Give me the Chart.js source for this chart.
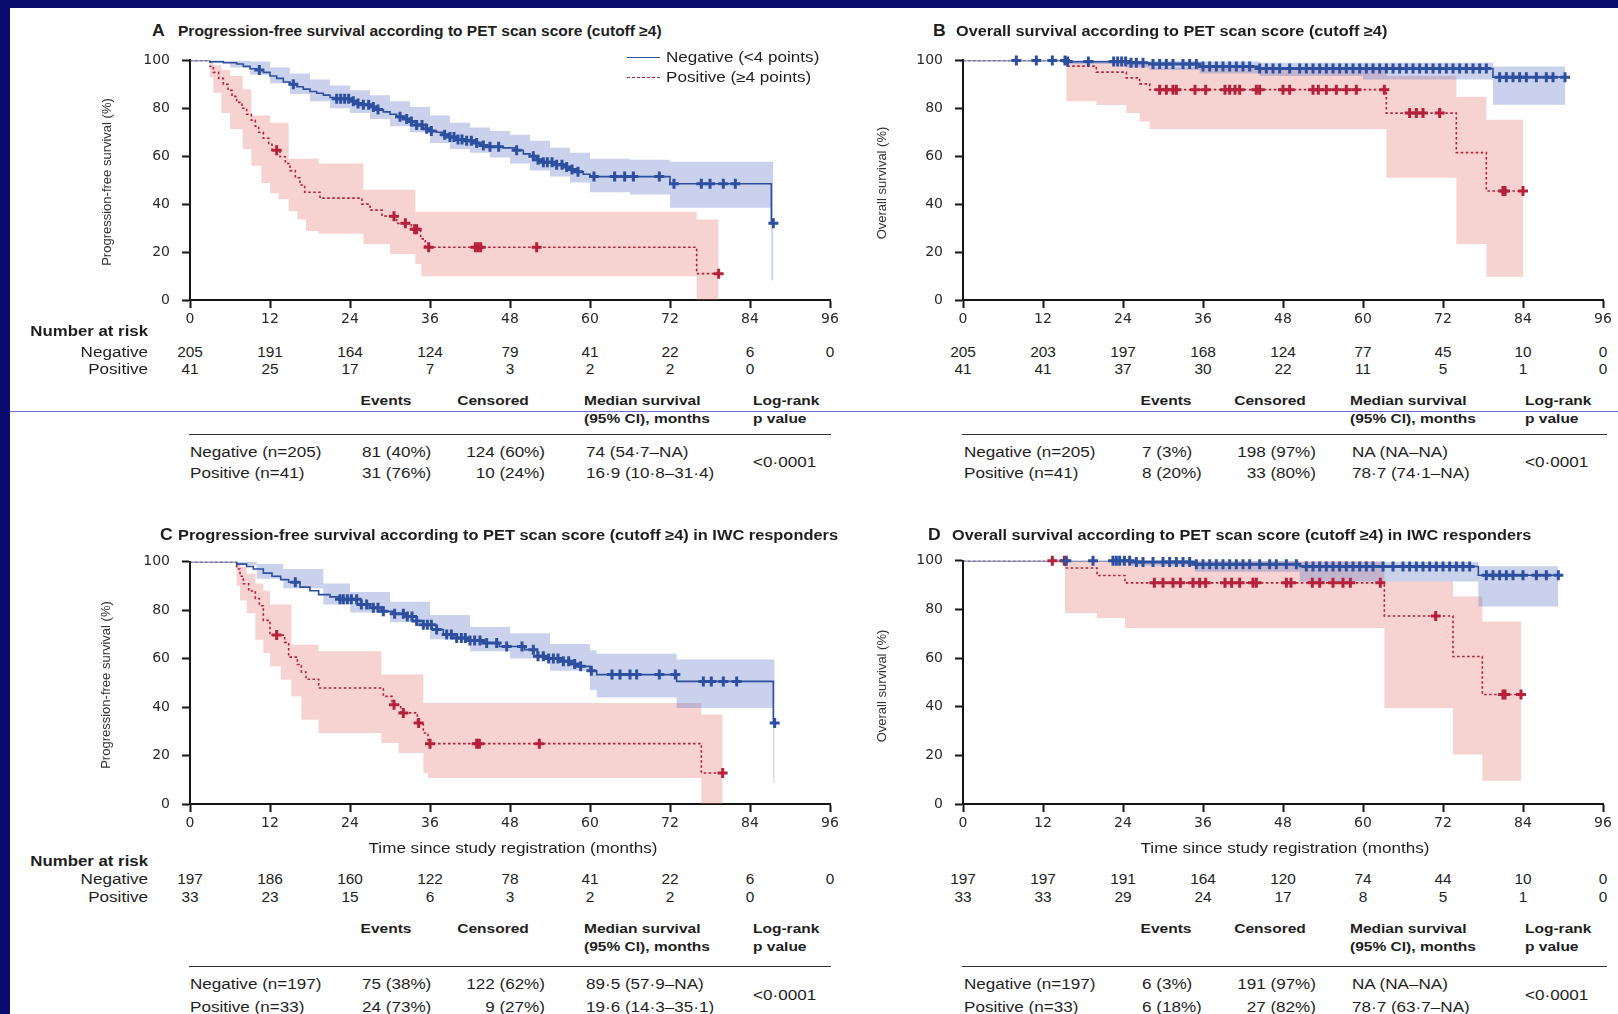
<!DOCTYPE html>
<html>
<head>
<meta charset="utf-8">
<script src="https://cdn.jsdelivr.net/npm/chart.js@4.4.0/dist/chart.umd.min.js"></script>
<style>
html, body { margin: 0; padding: 0; }
body { width: 1618px; height: 1014px; overflow: hidden; background: #0b0b6d; position: relative;
       font-family: "Liberation Sans", Arial, sans-serif; color: #1e1e1e; }
#sheet { position: absolute; left: 10px; top: 8px; right: 0; bottom: 0; background: #fff; }
#band-line { position: absolute; left: 10px; right: 0; top: 411px; height: 0; border-top: 1px solid #6b6bd6; }
.t { position: absolute; white-space: nowrap; line-height: 1; }
.rule { position: absolute; height: 0; border-top: 1.5px solid #333; }
.leg { position: absolute; width: 33px; height: 0; }
canvas { position: absolute; }
</style>
</head>
<body>
<div id="sheet"></div>
<div id="band-line"></div>
<script>
// ---- time points for number at risk ----
const riskTimes = [0, 12, 24, 36, 48, 60, 72, 84, 96];

// ---- A: PFS, all patients ----
const aNegT = [0, 3, 5, 7, 8, 9, 10, 11, 12, 13, 14, 15, 16, 17, 18, 19, 20, 21, 22, 24, 25, 26, 27, 28, 29, 30, 31, 32, 33, 34, 35, 36, 37, 38, 39, 40, 41, 43, 44, 45, 47, 49, 50, 51, 52, 53, 55, 56, 57, 58, 59, 60, 72, 87.2];
const aNegS = [100, 99.5, 99, 98.5, 97.5, 96.5, 96, 95, 93.5, 92.5, 91, 90, 89, 88, 87, 86.3, 85.5, 84.5, 84, 83, 82, 81.5, 80.5, 79.5, 78.5, 77.5, 76.5, 75.5, 74.5, 73, 71.5, 70.5, 70, 69, 68, 67, 66.5, 65.5, 64.5, 64, 63.5, 62.5, 61, 60, 58.5, 57.5, 56.5, 55.5, 54.5, 53.5, 52.5, 51.5, 48.5, 32];
const aNegCens = [10.4, 15.5, 22, 22.6, 23.2, 23.8, 24.5, 25.2, 26, 26.8, 27.5, 28.2, 31.5, 32.5, 33.2, 34, 34.8, 35.5, 36.2, 38.2, 39, 39.6, 40.2, 40.8, 41.5, 42.2, 43, 44, 45, 46.3, 49, 51.5, 52.2, 53, 53.6, 54.3, 55, 55.8, 56.5, 57.3, 58.2, 60.6, 63.7, 65.2, 66.5, 70.4, 72.6, 76.7, 78, 80, 81.8, 87.5];
const aNegCiT = [0, 3, 6, 9, 12, 15, 18, 21, 24, 27, 30, 33, 36, 39, 42, 45, 48, 51, 54, 57, 60, 66, 72, 87.2];
const aNegCiHi = [100, 100, 100, 99.5, 97, 94.5, 92, 89.5, 87.5, 85.5, 83, 80.5, 77, 74, 72, 70.5, 69, 66.5, 63.5, 61.5, 59, 58.5, 57.7, 57.7];
const aNegCiLo = [100, 99, 97, 94, 90.5, 86, 83, 80, 78, 75.5, 72.5, 70, 65.5, 63, 61.5, 59.5, 57, 54, 51.5, 49, 45, 44, 38.5, 8.2];
const aPosT = [0, 3, 3.5, 4.3, 5, 5.7, 6.3, 7, 7.8, 8.5, 9.2, 9.8, 10.3, 11, 11.8, 12.3, 13.5, 14.3, 15, 15.8, 16.5, 17.2, 19.5, 25.8, 27, 28.8, 31, 33.2, 34.6, 35.3, 76];
const aPosS = [100, 97.5, 95, 92.5, 90, 87.5, 85, 82.5, 80, 77.5, 75, 72.5, 70, 67.5, 65, 62.5, 59.8, 57, 54, 51, 48, 45, 42.5, 40, 37.5, 35, 32, 29.5, 25.5, 22, 11];
const aPosCens = [13, 30.6, 32.3, 33.7, 34, 35.8, 42.8, 43.2, 43.6, 52, 79.3];
const aPosCiT = [0, 3, 3.5, 4.7, 6, 7.9, 9.2, 10.7, 12, 13.3, 14.8, 16.1, 17.4, 19.3, 26, 30, 33.8, 34.7, 76];
const aPosCiHi = [100, 99.5, 98, 96, 93.5, 88, 77, 77, 74, 74, 59, 59, 59, 57, 46, 46, 36.8, 36.8, 33.6];
const aPosCiLo = [100, 93, 86.5, 78, 71.4, 63, 56, 48.8, 44.6, 42, 37, 33.6, 28.8, 27.7, 23.4, 19.2, 15, 9.9, 0];
const aRiskNeg = [205, 191, 164, 124, 79, 41, 22, 6, 0];
const aRiskPos = [41, 25, 17, 7, 3, 2, 2, 0];
const aRows = [["Negative (n=205)", "81 (40%)", "124 (60%)", "74 (54·7–NA)"],
               ["Positive (n=41)", "31 (76%)", "10 (24%)", "16·9 (10·8–31·4)"]];

// ---- B: OS, all patients ----
const bNegT = [0, 15.5, 24.5, 28, 35.5, 44.5, 79.5];
const bNegS = [100, 99.5, 99, 98.5, 97.5, 96.6, 93];
const bNegCens = [8, 11, 13.4, 15.3, 15.7, 18.8, 22.6, 23.2, 23.8, 24.4, 25.2, 26, 27, 28.5, 29.5, 30.5, 31.5, 33, 34, 35, 36, 37, 38, 39, 40, 41, 42, 43, 44.5, 45.5, 46.5, 47.5, 49, 50.5, 51.5, 52.5, 53.5, 54.5, 55.5, 56.5, 57.5, 58.5, 59.5, 60.5, 61.5, 62.5, 63.5, 64.5, 65.5, 66.5, 67.5, 68.5, 69.5, 70.5, 71.5, 72.5, 73.5, 74.5, 75.5, 76.5, 77.5, 78.5, 80.5, 81.5, 82.5, 83.5, 84.5, 86, 87.5, 88.5, 90.3];
const bNegCiT = [0, 15.5, 24.5, 28, 35.5, 44.5, 60, 79.5];
const bNegCiHi = [100, 100, 100, 100, 99.5, 99, 99, 97.5];
const bNegCiLo = [100, 98.5, 97, 96, 94.5, 93.5, 92, 81.5];
const bPosT = [0, 15.5, 20, 24.5, 26.5, 28, 63.5, 74, 78.5];
const bPosS = [100, 97.6, 95.1, 92.7, 90.2, 87.8, 78, 61.5, 45.5];
const bPosCens = [29.5, 30.5, 31.5, 32, 34.8, 36.4, 39.3, 40, 40.8, 41.5, 44, 44.5, 48, 49, 52.5, 53.3, 54.5, 56, 57.5, 59, 63.2, 67, 68, 69, 71.5, 81, 81.3, 84];
const bPosCiT = [0, 15.5, 20, 24.5, 26.5, 28, 63.5, 74, 78.5];
const bPosCiHi = [100, 100, 100, 99.5, 99, 97, 93.5, 84.8, 75.2];
const bPosCiLo = [100, 83, 81.4, 78, 74.5, 71.4, 51, 23.4, 9.7];
const bRiskNeg = [205, 203, 197, 168, 124, 77, 45, 10, 0];
const bRiskPos = [41, 41, 37, 30, 22, 11, 5, 1, 0];
const bRows = [["Negative (n=205)", "7 (3%)", "198 (97%)", "NA (NA–NA)"],
               ["Positive (n=41)", "8 (20%)", "33 (80%)", "78·7 (74·1–NA)"]];

// ---- C: PFS, IWC responders ----
const cNegT = [0, 7, 8.5, 9.5, 11, 12.3, 13.6, 14.8, 16.5, 18, 19.3, 21, 22.5, 25.6, 27, 28.7, 30.5, 32.5, 34, 35, 36.3, 38, 39.5, 42, 43.9, 46.4, 50.2, 52.1, 53.5, 55.3, 57, 58.4, 60, 61, 73, 87.5];
const cNegS = [100, 99, 98, 97, 95.3, 94, 92.6, 91.5, 89.5, 88, 86.4, 85.5, 84.5, 82.3, 81, 79.5, 78.5, 77.4, 75.5, 74, 72, 70, 68.5, 67.5, 66.4, 65, 63.7, 61, 60, 58.9, 57.8, 56.8, 55, 53.4, 50.6, 33.4];
const cNegCens = [15.8, 22.5, 23, 23.6, 24.2, 25, 25.7, 26.5, 27.5, 28.2, 29, 30.7, 32, 32.6, 33.3, 34, 35, 35.6, 36.2, 37, 38.5, 39.2, 40, 40.7, 41.3, 42, 42.7, 43.5, 44.5, 46, 47.5, 49.8, 51.5, 52.2, 53, 53.8, 54.5, 55.2, 56, 56.8, 57.7, 58.6, 60.2, 63.3, 64.5, 66, 67, 70.4, 72.8, 77, 78.2, 80, 82, 87.7];
const cNegCiT = [0, 7, 10, 14, 20, 24, 30, 36, 42, 48, 54, 60, 61, 73, 87.5];
const cNegCiHi = [100, 100, 99, 97, 91, 87.5, 83.5, 78, 73, 70.5, 66, 63.5, 62, 59.6, 59.6];
const cNegCiLo = [100, 98.5, 93, 89, 82.3, 79, 75, 68, 63, 60, 55, 47, 44, 39.6, 8.7];
const cPosT = [0, 7, 7.5, 8, 8.8, 9.8, 10.4, 11, 12, 14.2, 14.8, 16.1, 16.7, 17.4, 19.3, 29, 30.3, 31.6, 34.1, 35, 35.7, 76.7];
const cPosS = [100, 97, 94, 90.9, 87.9, 84.8, 81.8, 75.8, 69.7, 66.7, 60.6, 57.6, 54.5, 51.5, 47.9, 44.4, 41, 37.6, 33.4, 29.3, 24.9, 12.8];
const cPosCens = [13, 30.6, 32, 34.3, 36, 43, 43.4, 52.4, 79.9];
const cPosCiT = [0, 7, 7.5, 8.5, 9.8, 11, 12, 13.6, 15.2, 16.7, 19.3, 28.7, 31.3, 35, 35.7, 76.7];
const cPosCiHi = [100, 99.5, 98, 95, 91, 88, 82.3, 82.3, 65.7, 65.7, 63, 53.4, 53.4, 41.7, 41.7, 36.9];
const cPosCiLo = [100, 90, 84, 78.8, 67.8, 62.3, 56.8, 51.3, 44.4, 34.8, 29.3, 25.2, 21, 12.8, 10.7, 0];
const cRiskNeg = [197, 186, 160, 122, 78, 41, 22, 6, 0];
const cRiskPos = [33, 23, 15, 6, 3, 2, 2, 0];
const cRows = [["Negative (n=197)", "75 (38%)", "122 (62%)", "89·5 (57·9–NA)"],
               ["Positive (n=33)", "24 (73%)", "9 (27%)", "19·6 (14·3–35·1)"]];

// ---- D: OS, IWC responders ----
const dNegT = [0, 25.2, 34.8, 50.5, 77.3];
const dNegS = [100, 99.5, 98.5, 97.6, 94];
const dNegCens = [15.5, 19.5, 22.5, 23, 23.5, 24.2, 25, 26, 27, 28.5, 30, 31, 32, 33, 34, 35, 36, 37, 38, 39, 40, 41, 42, 43, 44.5, 46, 47, 48.5, 50, 51.5, 52.5, 53.5, 54.5, 55.5, 56.5, 57.5, 58.5, 59.5, 60.5, 61.5, 63, 64.5, 66, 67, 68, 69, 70, 71, 72, 73, 74, 75, 76, 78.5, 79.5, 80.5, 81.5, 82.5, 84, 86, 87.5, 89.3];
const dNegCiT = [0, 25.2, 34.8, 50.5, 77.3];
const dNegCiHi = [100, 100, 99.8, 99.5, 97.7];
const dNegCiLo = [100, 98, 95.5, 91.5, 81.2];
const dPosT = [0, 15.3, 20.1, 24.3, 63.2, 73.5, 77.9];
const dPosS = [100, 97, 93.9, 90.9, 77.3, 60.6, 45];
const dPosCens = [13.4, 15.2, 28.7, 30, 31.5, 32.6, 34.5, 35.5, 36.4, 39.3, 40.3, 41.5, 43.5, 44, 48.5, 49.2, 52.4, 53.5, 55.5, 57, 58.1, 62.6, 70.9, 81, 81.3, 83.7];
const dPosCiT = [0, 15.3, 20.1, 24.3, 63.2, 73.5, 77.9];
const dPosCiHi = [100, 100, 100, 100, 91.5, 85.3, 75];
const dPosCiLo = [100, 78.5, 76.4, 72.3, 39.5, 20.3, 9.6];
const dRiskNeg = [197, 197, 191, 164, 120, 74, 44, 10, 0];
const dRiskPos = [33, 33, 29, 24, 17, 8, 5, 1, 0];
const dRows = [["Negative (n=197)", "6 (3%)", "191 (97%)", "NA (NA–NA)"],
               ["Positive (n=33)", "6 (18%)", "27 (82%)", "78·7 (63·7–NA)"]];

const pValue = "<0·0001";

const BLUE = "#2c4f9f";
const RED = "#b5213b";
const BLUE_BAND = "rgba(90,115,200,0.33)";
const RED_BAND = "rgba(225,110,100,0.30)";

Chart.defaults.font.family = "'DejaVu Sans', sans-serif";

// text helper: x/y is the anchor point, text vertically centred on y
function put(txt, x, y, o = {}) {
    const d = document.createElement("div");
    d.className = "t";
    d.textContent = txt;
    d.style.left = x + "px";
    d.style.top = y + "px";
    d.style.fontSize = (o.size || 14) + "px";
    if (o.bold) d.style.fontWeight = "bold";
    if (o.color) d.style.color = o.color;
    if (o.rot) {
        d.style.transformOrigin = "50% 50%";
        d.style.transform = "translate(-50%,-50%) rotate(-90deg)";
    } else {
        const al = o.align || "l";
        const ax = al === "c" ? "-50%" : al === "r" ? "-100%" : "0";
        d.style.transformOrigin = (al === "c" ? "50%" : al === "r" ? "100%" : "0") + " 50%";
        d.style.transform = `translate(${ax},-50%) scaleX(${o.sx || 1.22})`;
    }
    document.body.appendChild(d);
    return d;
}

function valueAt(times, vals, t) {
    let v = vals[0];
    for (let i = 0; i < times.length; i++) {
        if (times[i] <= t) v = vals[i];
    }
    return v;
}

function stepPts(times, vals, end) {
    const pts = times.map((t, i) => ({ x: t, y: vals[i] }));
    if (end > times[times.length - 1]) pts.push({ x: end, y: vals[vals.length - 1] });
    return pts;
}

function groupSets(g, color, band, dashed) {
    const end = Math.max(g.t[g.t.length - 1], ...g.cens);
    return [
        { data: stepPts(g.ciT, g.ciHi, end), stepped: "before", borderColor: "transparent", borderWidth: 0,
          pointRadius: 0, backgroundColor: band, fill: "+1", order: 3 },
        { data: stepPts(g.ciT, g.ciLo, end), stepped: "before", borderColor: "transparent", borderWidth: 0,
          pointRadius: 0, fill: false, order: 3 },
        { data: stepPts(g.t, g.s, end), stepped: "before", borderColor: color, borderWidth: 1.6,
          borderDash: dashed ? [2.5, 2.5] : [], pointRadius: 0, fill: false, order: 1 },
        { data: g.cens.map(t => ({ x: t, y: valueAt(g.t, g.s, t) })), showLine: false, pointStyle: "cross",
          pointRadius: 5, borderColor: color, borderWidth: 3, order: 0, clip: false }
    ];
}

function makePanel(p) {
    const cv = document.createElement("canvas");
    cv.width = p.w;
    cv.height = p.h;
    cv.style.left = p.left + "px";
    cv.style.top = p.top + "px";
    cv.style.width = p.w + "px";
    cv.style.height = p.h + "px";
    document.body.appendChild(cv);

    const axisGrid = { display: true, drawOnChartArea: false, drawTicks: true, tickLength: 8, tickWidth: 2, tickColor: "#151515" };
    const axisBorder = { display: true, color: "#151515", width: 2 };
    const tickFont = { size: 14 };

    const chart = new Chart(cv.getContext("2d"), {
        type: "line",
        data: {
            datasets: [
                ...groupSets(p.neg, BLUE, BLUE_BAND, false),
                ...groupSets(p.pos, RED, RED_BAND, true)
            ]
        },
        options: {
            responsive: false,
            animation: false,
            devicePixelRatio: 1,
            events: [],
            layout: { padding: { left: 0, right: p.padR, top: p.padT, bottom: 0 } },
            plugins: { legend: { display: false }, tooltip: { enabled: false } },
            scales: {
                x: {
                    type: "linear", min: 0, max: 96,
                    ticks: { stepSize: 12, color: "#2a2a2a", font: tickFont, padding: 3, maxRotation: 0, autoSkip: false },
                    grid: axisGrid, border: axisBorder,
                    afterFit: s => { s.height = p.xH; }
                },
                y: {
                    min: 0, max: 100,
                    ticks: { stepSize: 20, color: "#2a2a2a", font: tickFont, padding: 12 },
                    grid: axisGrid, border: axisBorder,
                    afterFit: s => { s.width = p.yW; }
                }
            }
        }
    });

    // number at risk, placed under the axis ticks
    const xs = chart.scales.x;
    p.riskNeg.forEach((n, i) => put(String(n), p.left + xs.getPixelForValue(riskTimes[i]), p.riskY[0], { align: "c", size: 14, sx: 1.1 }));
    p.riskPos.forEach((n, i) => put(String(n), p.left + xs.getPixelForValue(riskTimes[i]), p.riskY[1], { align: "c", size: 14, sx: 1.1 }));
    return chart;
}

function summaryTable(rows, x, y) {
    put("Events", x.events, y.h1, { align: "c", size: 13.5, bold: true, sx: 1.15 });
    put("Censored", x.cens, y.h1, { align: "c", size: 13.5, bold: true, sx: 1.15 });
    put("Median survival", x.med - 2, y.h1, { size: 13.5, bold: true, sx: 1.15 });
    put("(95% CI), months", x.med - 2, y.h2, { size: 13.5, bold: true, sx: 1.15 });
    put("Log-rank", x.p, y.h1, { size: 13.5, bold: true, sx: 1.15 });
    put("p value", x.p, y.h2, { size: 13.5, bold: true, sx: 1.15 });
    const r = document.createElement("div");
    r.className = "rule";
    r.style.left = x.rule[0] + "px";
    r.style.width = (x.rule[1] - x.rule[0]) + "px";
    r.style.top = y.rule + "px";
    document.body.appendChild(r);
    rows.forEach((row, i) => {
        const yy = y.rows[i];
        put(row[0], x.label, yy, { size: 14 });
        put(row[1], x.ev, yy, { size: 14 });
        put(row[2], x.cr, yy, { size: 14, align: "r" });
        put(row[3], x.med, yy, { size: 14 });
    });
    put(pValue, x.p, y.p, { size: 14 });
}

const leftCols = { events: 386, cens: 493, med: 586, p: 753, label: 190, ev: 362, cr: 545, rule: [189, 831] };
const rightCols = { events: 1166, cens: 1270, med: 1352, p: 1525, label: 964, ev: 1142, cr: 1316, rule: [962, 1607] };

makePanel({ left: 60, top: 40, w: 800, h: 300, yW: 130, xH: 40, padT: 17.3, padR: 30,
    neg: { t: aNegT, s: aNegS, cens: aNegCens, ciT: aNegCiT, ciHi: aNegCiHi, ciLo: aNegCiLo },
    pos: { t: aPosT, s: aPosS, cens: aPosCens, ciT: aPosCiT, ciHi: aPosCiHi, ciLo: aPosCiLo },
    riskNeg: aRiskNeg, riskPos: aRiskPos, riskY: [352, 369] });
makePanel({ left: 850, top: 40, w: 768, h: 300, yW: 113, xH: 40, padT: 18.3, padR: 15,
    neg: { t: bNegT, s: bNegS, cens: bNegCens, ciT: bNegCiT, ciHi: bNegCiHi, ciLo: bNegCiLo },
    pos: { t: bPosT, s: bPosS, cens: bPosCens, ciT: bPosCiT, ciHi: bPosCiHi, ciLo: bPosCiLo },
    riskNeg: bRiskNeg, riskPos: bRiskPos, riskY: [352, 369] });
makePanel({ left: 60, top: 540, w: 800, h: 304, yW: 130, xH: 40, padT: 21.7, padR: 30,
    neg: { t: cNegT, s: cNegS, cens: cNegCens, ciT: cNegCiT, ciHi: cNegCiHi, ciLo: cNegCiLo },
    pos: { t: cPosT, s: cPosS, cens: cPosCens, ciT: cPosCiT, ciHi: cPosCiHi, ciLo: cPosCiLo },
    riskNeg: cRiskNeg, riskPos: cRiskPos, riskY: [879, 897] });
makePanel({ left: 850, top: 540, w: 768, h: 304, yW: 113, xH: 40, padT: 20.7, padR: 15,
    neg: { t: dNegT, s: dNegS, cens: dNegCens, ciT: dNegCiT, ciHi: dNegCiHi, ciLo: dNegCiLo },
    pos: { t: dPosT, s: dPosS, cens: dPosCens, ciT: dPosCiT, ciHi: dPosCiHi, ciLo: dPosCiLo },
    riskNeg: dRiskNeg, riskPos: dRiskPos, riskY: [879, 897] });

// panel titles
put("A", 152, 31, { size: 16, bold: true, sx: 1.1 });
put("Progression-free survival according to PET scan score (cutoff ≥4)", 178, 31, { size: 14.5, bold: true, sx: 1.07 });
put("B", 933, 31, { size: 16, bold: true, sx: 1.1 });
put("Overall survival according to PET scan score (cutoff ≥4)", 956, 31, { size: 14.5, bold: true, sx: 1.12 });
put("C", 160, 535, { size: 16, bold: true, sx: 1.1 });
put("Progression-free survival according to PET scan score (cutoff ≥4) in IWC responders", 178, 535, { size: 14.5, bold: true, sx: 1.13 });
put("D", 928, 535, { size: 16, bold: true, sx: 1.1 });
put("Overall survival according to PET scan score (cutoff ≥4) in IWC responders", 952, 535, { size: 14.5, bold: true, sx: 1.12 });

// y axis titles
put("Progression-free survival (%)", 106, 182, { size: 13, rot: true, color: "#333" });
put("Overall survival (%)", 881, 183, { size: 13, rot: true, color: "#333" });
put("Progression-free survival (%)", 105, 685, { size: 13, rot: true, color: "#333" });
put("Overall survival (%)", 881, 686, { size: 13, rot: true, color: "#333" });

// x axis titles
put("Time since study registration (months)", 513, 848, { align: "c", size: 14 });
put("Time since study registration (months)", 1285, 848, { align: "c", size: 14 });

// legend (panel A)
const l1 = document.createElement("div");
l1.className = "leg";
l1.style.cssText = `left:627px;top:57px;border-top:1.6px solid ${BLUE};`;
document.body.appendChild(l1);
const l2 = document.createElement("div");
l2.className = "leg";
l2.style.cssText = `left:627px;top:77px;border-top:1.6px dashed ${RED};`;
document.body.appendChild(l2);
put("Negative (<4 points)", 666, 57, { size: 14 });
put("Positive (≥4 points)", 666, 77, { size: 14 });

// number at risk labels
put("Number at risk", 148, 331, { align: "r", size: 14, bold: true, sx: 1.2 });
put("Negative", 148, 352, { align: "r", size: 14 });
put("Positive", 148, 369, { align: "r", size: 14 });
put("Number at risk", 148, 861, { align: "r", size: 14, bold: true, sx: 1.2 });
put("Negative", 148, 879, { align: "r", size: 14 });
put("Positive", 148, 897, { align: "r", size: 14 });

// summary tables
const topY = { h1: 401, h2: 419, rule: 434, rows: [452, 473], p: 462 };
const botY = { h1: 929, h2: 947, rule: 966, rows: [984, 1007], p: 995 };
summaryTable(aRows, leftCols, topY);
summaryTable(bRows, rightCols, topY);
summaryTable(cRows, leftCols, botY);
summaryTable(dRows, rightCols, botY);
</script>
</body>
</html>
